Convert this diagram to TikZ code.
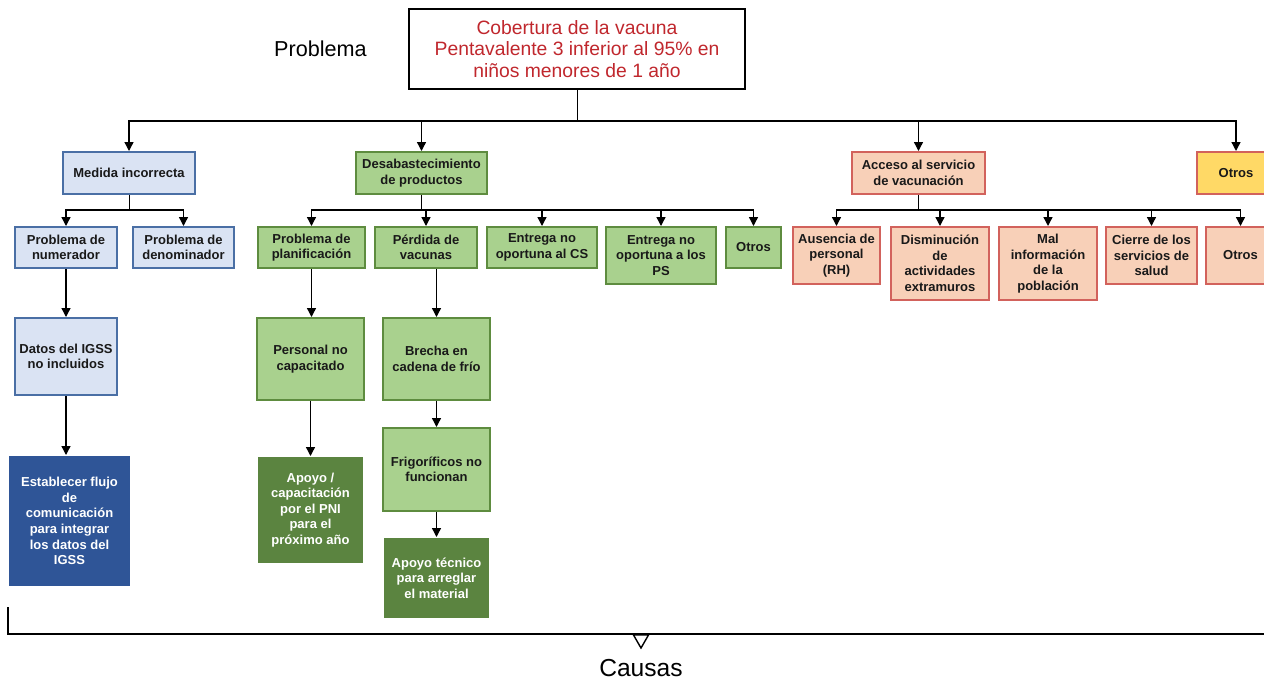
\documentclass[tikz,border=0pt]{standalone}
\usepackage{fontspec}
\setmainfont{Liberation Sans}
\usetikzlibrary{arrows.meta, positioning}
\definecolor{blueFill}{HTML}{DAE3F3}
\definecolor{blueLine}{HTML}{4A6FA5}
\definecolor{blueDark}{HTML}{2F5597}
\definecolor{greenFill}{HTML}{A9D18E}
\definecolor{greenLine}{HTML}{5E8C3F}
\definecolor{greenDark}{HTML}{5B8440}
\definecolor{peachFill}{HTML}{F8D0B8}
\definecolor{redLine}{HTML}{D2625C}
\definecolor{yellowFill}{HTML}{FFD966}
\definecolor{titleRed}{HTML}{C0272D}
\tikzstyle{line} = [draw, -{Triangle[length=5pt,width=5pt]}, line width=0.75pt]
\tikzstyle{box} = [draw, line width=1.1pt, anchor=north, align=center, inner sep=1pt,
  text=black!90, font=\fontsize{7.4}{8.9}\selectfont\bfseries]
\tikzstyle{bluebox} = [box, fill=blueFill, draw=blueLine]
\tikzstyle{greenbox} = [box, fill=greenFill, draw=greenLine]
\tikzstyle{peachbox} = [box, fill=peachFill, draw=redLine]
\tikzstyle{actionbox} = [box, draw=none, text=white]

\begin{document}
\begin{tikzpicture}
\useasboundingbox (0,0) rectangle (25.28,-13.62);

% problema
\node [draw, line width=1.1pt, align=center, minimum width=6.72cm, minimum height=1.6cm,
  text=titleRed, font=\fontsize{11}{12.2}\selectfont]
  (top) at (11.54,-0.98) {Cobertura de la vacuna\\Pentavalente 3 inferior al 95\% en\\ni\~nos menores de 1 a\~no};
\node [left=0.82cm of top, inner sep=0, font=\fontsize{12.3}{14}\selectfont] (problema) {Problema};

% primer nivel
\node [bluebox, minimum width=2.64cm, minimum height=0.84cm] (medida) at (2.58,-3.02) {Medida incorrecta};
\node [greenbox, minimum width=2.62cm, minimum height=0.84cm] (desab) at (8.43,-3.02) {Desabastecimiento\\de productos};
\node [peachbox, minimum width=2.66cm, minimum height=0.84cm] (acceso) at (18.37,-3.02) {Acceso al servicio\\de vacunaci\'on};
\node [box, fill=yellowFill, draw=redLine, minimum width=1.56cm, minimum height=0.84cm] (otros) at (24.72,-3.02) {Otros};

\draw (top.south) -- ++(0,-0.62) coordinate (tophub);
\foreach \n in {medida, desab, acceso, otros}
  \draw[line] (tophub) -| (\n.north);

% segundo nivel
\node [bluebox, minimum width=2.04cm, minimum height=0.82cm] (numer) at (1.32,-4.52) {Problema de\\numerador};
\node [bluebox, minimum width=2.02cm, minimum height=0.82cm] (denom) at (3.67,-4.52) {Problema de\\denominador};

\node [greenbox, minimum width=2.14cm, minimum height=0.82cm] (planif) at (6.23,-4.52) {Problema de\\planificaci\'on};
\node [greenbox, minimum width=2.04cm, minimum height=0.82cm] (perdida) at (8.52,-4.52) {P\'erdida de\\vacunas};
\node [greenbox, minimum width=2.2cm, minimum height=0.82cm] (entregaCS) at (10.84,-4.52) {Entrega no\\oportuna al CS};
\node [greenbox, minimum width=2.2cm, minimum height=1.14cm] (entregaPS) at (13.22,-4.52) {Entrega no\\oportuna a los\\PS};
\node [greenbox, minimum width=1.1cm, minimum height=0.82cm] (otrosD) at (15.07,-4.52) {Otros};

\node [peachbox, minimum width=1.74cm, minimum height=1.14cm] (ausencia) at (16.73,-4.52) {Ausencia de\\personal\\(RH)};
\node [peachbox, minimum width=1.96cm, minimum height=1.46cm] (dismin) at (18.8,-4.52) {Disminuci\'on\\de\\actividades\\extramuros};
\node [peachbox, minimum width=1.96cm, minimum height=1.46cm] (malinfo) at (20.96,-4.52) {Mal\\informaci\'on\\de la\\poblaci\'on};
\node [peachbox, minimum width=1.82cm, minimum height=1.14cm] (cierre) at (23.03,-4.52) {Cierre de los\\servicios de\\salud};
\node [peachbox, minimum width=1.38cm, minimum height=1.14cm] (otrosA) at (24.81,-4.52) {Otros};

\draw (medida.south) -- ++(0,-0.3) coordinate (mhub);
\foreach \n in {numer, denom}
  \draw[line] (mhub) -| (\n.north);
\draw (desab.south) -- ++(0,-0.3) coordinate (dhub);
\foreach \n in {planif, perdida, entregaCS, entregaPS, otrosD}
  \draw[line] (dhub) -| (\n.north);
\draw (acceso.south) -- ++(0,-0.3) coordinate (ahub);
\foreach \n in {ausencia, dismin, malinfo, cierre, otrosA}
  \draw[line] (ahub) -| (\n.north);

% tercer nivel
\node [bluebox, minimum width=2.04cm, minimum height=1.54cm] (datos) at (1.32,-6.34) {Datos del IGSS\\no incluidos};
\node [greenbox, minimum width=2.14cm, minimum height=1.64cm] (personal) at (6.21,-6.34) {Personal no\\capacitado};
\node [greenbox, minimum width=2.14cm, minimum height=1.64cm] (brecha) at (8.73,-6.34) {Brecha en\\cadena de fr\'io};
\node [greenbox, minimum width=2.14cm, minimum height=1.66cm] (frigo) at (8.73,-8.54) {Frigor\'ificos no\\funcionan};

% acciones
\node [actionbox, fill=blueDark, minimum width=2.42cm, minimum height=2.6cm] (establecer) at (1.39,-9.1)
  {Establecer flujo\\de\\comunicaci\'on\\para integrar\\los datos del\\IGSS};
\node [actionbox, fill=greenDark, minimum width=2.1cm, minimum height=2.12cm] (apoyoPNI) at (6.21,-9.12)
  {Apoyo /\\capacitaci\'on\\por el PNI\\para el\\pr\'oximo a\~no};
\node [actionbox, fill=greenDark, minimum width=2.1cm, minimum height=1.6cm] (apoyoTec) at (8.73,-10.74)
  {Apoyo t\'ecnico\\para arreglar\\el material};

\draw[line] (numer) -- (datos);
\draw[line] (datos.south) -- (datos.south |- establecer.north);
\draw[line] (planif.south) -- (planif.south |- personal.north);
\draw[line] (personal) -- (apoyoPNI);
\draw[line] (perdida.south -| brecha.north) -- (brecha.north);
\draw[line] (brecha) -- (frigo);
\draw[line] (frigo) -- (apoyoTec);

% causas
\draw[line width=1pt] (0.16,-12.14) -- (0.16,-12.68) -- (25.4,-12.68);
\draw[line width=0.8pt, fill=white] (12.67,-12.7) -- (12.97,-12.7) -- (12.82,-12.96) -- cycle;
\node [font=\fontsize{14}{16}\selectfont] (causas) at (12.82,-13.36) {Causas};

\end{tikzpicture}
\end{document}
